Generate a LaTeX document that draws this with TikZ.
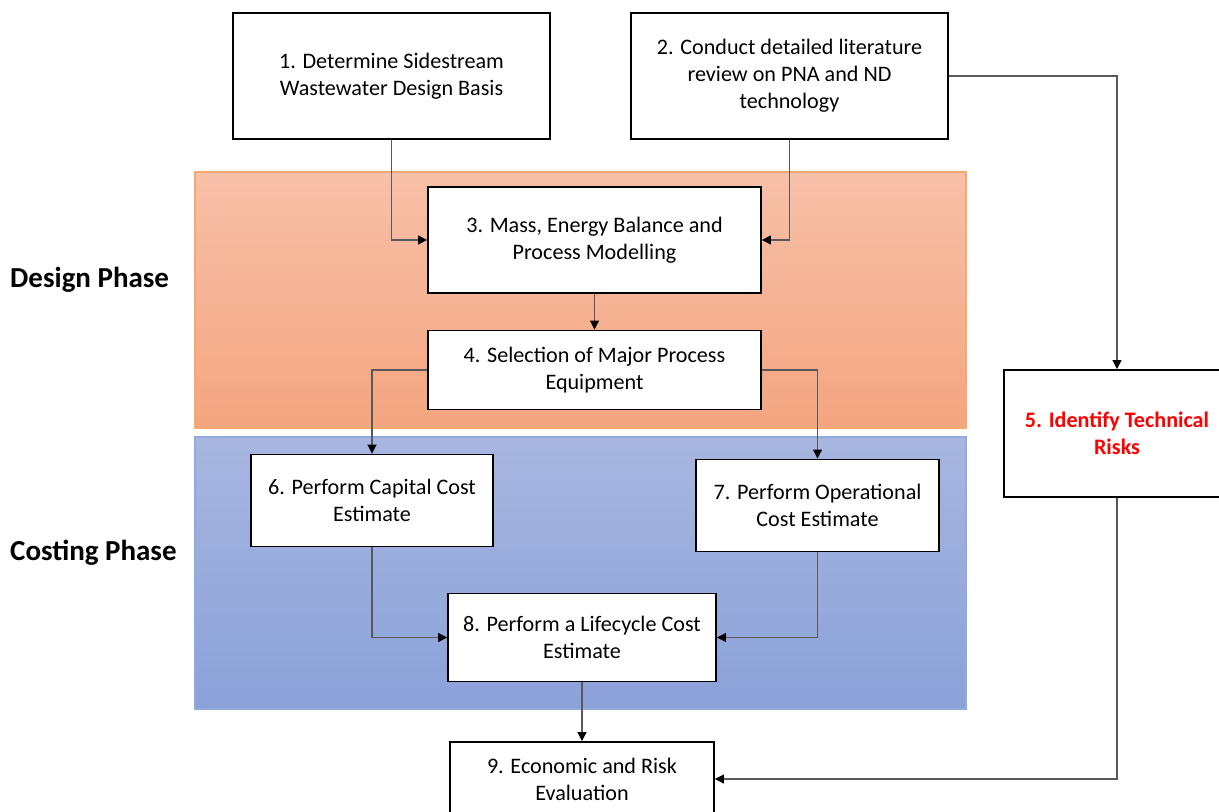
\documentclass[tikz,border=0pt]{standalone}
\usepackage{fontspec}
\setmainfont{Carlito}
\usetikzlibrary{arrows.meta}

\definecolor{designtop}{RGB}{247,192,168}
\definecolor{designbot}{RGB}{244,165,128}
\definecolor{designline}{RGB}{244,170,110}
\definecolor{costtop}{RGB}{168,182,224}
\definecolor{costbot}{RGB}{138,161,216}
\definecolor{costline}{RGB}{143,170,220}
\definecolor{linkgray}{RGB}{89,89,89}
\definecolor{riskred}{RGB}{255,0,0}

\begin{document}
\begin{tikzpicture}[x=0.02cm,y=-0.02cm,
    box/.style={draw=black,line width=1.1pt,fill=white,align=center,inner sep=0pt,
        font=\fontsize{12.6}{15.3}\selectfont},
    phase/.style={anchor=west,font=\fontsize{16.5}{19}\selectfont\bfseries},
    link/.style={-{Triangle[length=1.8mm,width=1.8mm,color=black]},
        every edge/.append style={draw=linkgray,line width=0.6pt}},
    vh/.style={to path={|- (\tikztotarget)}},
    hv/.style={to path={-| (\tikztotarget)}}]
        \useasboundingbox (0,0) rectangle (1219,811);
        \clip (0,0) rectangle (1219,811);

        % phase bands
        \path[top color=designtop,bottom color=designbot,draw=designline,line width=0.6pt]
            (195,172) rectangle (966,428);
        \path[top color=costtop,bottom color=costbot,draw=costline,line width=0.6pt]
            (195,437) rectangle (966,709);
        \node[phase] (design) at (4,280) {Design Phase};
        \node[phase] (costing) at (4,553) {Costing Phase};

        % steps
        \node[box,minimum width=6.34cm,minimum height=2.52cm] (basis) at (391.5,76)
            {1. Determine Sidestream\\Wastewater Design Basis};
        \node[box,minimum width=6.34cm,minimum height=2.52cm] (review) at (789.5,76)
            {2. Conduct detailed literature\\review on PNA and ND\\technology};
        \node[box,minimum width=6.66cm,minimum height=2.12cm] (balance) at (594.5,240)
            {3. Mass, Energy Balance and\\Process Modelling};
        \node[box,minimum width=6.66cm,minimum height=1.58cm] (equip) at (594.5,370)
            {4. Selection of Major Process\\Equipment};
        \node[box,minimum width=4.52cm,minimum height=2.54cm,text=riskred,
            font=\fontsize{12.6}{15.3}\selectfont\bfseries] (risks) at (1117,433.5)
            {5. Identify Technical\\Risks};
        \node[box,minimum width=4.84cm,minimum height=1.84cm] (capex) at (372,500.5)
            {6. Perform Capital Cost\\Estimate};
        \node[box,minimum width=4.86cm,minimum height=1.84cm] (opex) at (817.5,505.5)
            {7. Perform Operational\\Cost Estimate};
        \node[box,minimum width=5.36cm,minimum height=1.76cm] (lcc) at (582,637.5)
            {8. Perform a Lifecycle Cost\\Estimate};
        \node[box,minimum width=5.28cm,minimum height=1.48cm] (eval) at (582,779)
            {9. Economic and Risk\\Evaluation};

        \path[link]
                (basis.south) edge[vh] (balance.west)
                (review.south) edge[vh] (balance.east)
                (review.east) edge[hv] (risks.north)
                (balance.south) edge (equip.north)
                (equip.west) edge[hv] (capex.north)
                (equip.east) edge[hv] (opex.north)
                (capex.south) edge[vh] (lcc.west)
                (opex.south) edge[vh] (lcc.east)
                (lcc.south) edge (eval.north)
                (risks.south) edge[vh] (eval.east);
    \end{tikzpicture}
\end{document}
